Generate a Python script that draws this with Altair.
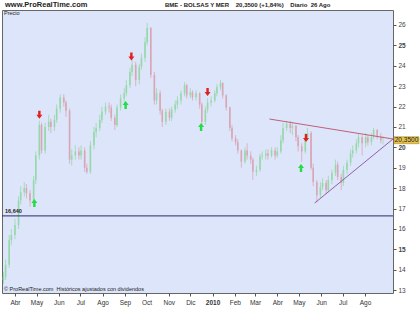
import altair as alt
import pandas as pd

close = [13.65,14.25,15.45,15.7,16.2,17.4,17.8,18.0,17.75,17.4,
         18.4,19.6,21.1,19.85,21.0,21.25,21.0,21.35,21.9,22.45,
         22.2,21.8,19.4,19.6,19.8,19.6,19.85,19.0,18.8,20.1,
         20.75,20.95,21.35,21.75,22.0,21.95,21.45,21.1,21.95,22.4,
         22.65,23.05,23.7,24.05,23.3,23.95,24.4,25.15,25.85,23.55,
         22.3,22.65,21.8,21.25,21.75,21.45,21.85,22.1,22.3,22.65,
         23.05,22.55,22.7,22.45,22.65,22.1,21.25,21.85,22.2,22.3,
         22.65,22.95,23.15,22.55,21.95,20.95,20.45,20.25,19.85,19.3,
         19.85,19.6,19.4,18.8,18.9,19.55,19.6,19.7,19.6,19.85,
         19.6,19.8,20.35,20.95,21.15,20.95,21.05,20.5,20.05,19.8,
         20.5,20.7,19.0,18.3,17.65,18.05,18.25,17.9,18.4,18.75,
         19.15,18.55,18.25,18.9,19.25,19.7,19.85,20.2,20.5,20.2,
         20.5,20.25,20.5,20.85,20.55,20.35,20.35]
high = [13.9,14.5,15.7,16.0,16.5,17.6,18.1,18.3,18.2,17.9,
        18.6,19.8,21.3,21.2,21.2,21.6,21.4,21.6,22.1,22.6,
        22.6,22.3,21.9,19.9,20.1,20.0,20.1,20.0,19.2,20.3,
        21.0,21.2,21.6,22.0,22.2,22.2,22.1,21.6,22.1,22.6,
        22.9,23.3,23.9,24.3,24.2,24.1,24.6,25.4,26.1,25.9,
        23.7,22.9,22.8,21.9,21.9,21.9,22.0,22.3,22.5,22.8,
        23.2,23.1,22.9,22.8,22.8,22.7,22.2,22.0,22.4,22.5,
        22.8,23.1,23.3,23.2,22.6,22.0,21.1,20.6,20.4,19.9,
        20.0,20.2,19.8,19.5,19.1,19.7,19.8,19.9,19.9,20.0,
        20.0,20.0,20.6,21.2,21.3,21.3,21.2,21.1,20.6,20.2,
        20.7,20.95,20.8,19.2,18.4,18.3,18.5,18.4,18.6,18.9,
        19.4,19.3,18.7,19.1,19.4,19.9,20.1,20.4,20.7,20.6,
        20.7,20.6,20.7,20.95,20.9,20.7,20.55]
low = [13.3,13.5,14.1,15.2,15.5,16.0,17.2,17.6,17.5,17.1,
       17.3,18.2,19.4,19.7,19.7,20.8,20.7,20.8,21.2,21.7,
       22.0,21.5,19.2,19.1,19.4,19.4,19.4,18.8,18.7,18.7,
       19.9,20.5,20.8,21.2,21.6,21.7,21.3,20.85,21.0,21.8,
       22.2,22.5,22.9,23.5,23.0,23.1,23.8,24.2,25.0,23.4,
       22.1,22.1,21.6,21.0,21.1,21.3,21.3,21.7,21.9,22.1,
       22.5,22.4,22.4,22.3,22.3,21.9,21.1,21.1,21.7,22.0,
       22.2,22.5,22.8,22.4,21.8,20.8,20.3,20.1,19.7,19.0,
       19.2,19.4,19.2,18.4,18.6,18.8,19.4,19.4,19.4,19.5,
       19.4,19.5,19.7,20.2,20.8,20.7,20.6,20.3,19.8,19.3,
       19.7,20.4,18.9,18.1,17.3,17.5,17.9,17.7,17.8,18.2,
       18.6,18.4,17.9,18.1,18.7,19.1,19.5,19.7,20.0,19.6,
       20.0,20.1,20.1,20.4,20.4,20.2,20.15]
first_open = 13.5

sell_dates = ["2009-05-05", "2009-09-10", "2009-12-25", "2010-05-11"]
sell_prices = [21.6, 24.45, 22.72, 20.46]
buy_dates = ["2009-04-28", "2009-09-02", "2009-12-16", "2010-05-04"]
buy_prices = [17.27, 22.08, 21.0, 18.99]

upper_dates = ["2010-03-21", "2010-09-09"]
upper_prices = [21.39, 20.41]
lower_dates = ["2010-05-23", "2010-09-09"]
lower_prices = [17.27, 20.41]

support_level = 16.64
last_price = 20.35
month_names = ['2010','Feb','Mar','Abr','May','Jun','Jul','Ago','Sep','Oct','Nov','Dic']
y_ticks = list(range(13, 27))

dates = pd.bdate_range("2009-03-16", periods=len(close), freq="3B")
opens = [first_open] + close[:-1]
df = pd.DataFrame({
    "date": dates.strftime("%Y-%m-%dT00:00:00"),
    "open": opens, "close": close, "high": high, "low": low,
})
df["dir"] = ["up" if c >= o else "down" for o, c in zip(opens, close)]

def ts(s):
    return [d + "T00:00:00" for d in s]

sells = pd.DataFrame({"date": ts(sell_dates), "price": sell_prices})
buys = pd.DataFrame({"date": ts(buy_dates), "price": buy_prices})
tri = pd.DataFrame({
    "date": ts(upper_dates) + ts(lower_dates),
    "price": upper_prices + lower_prices,
    "line": ["upper", "upper", "lower", "lower"],
})

xscale = alt.Scale(domain=[alt.DateTime(year=2009, month=3, date=14),
                           alt.DateTime(year=2010, month=9, date=9)], padding=0)
yscale = alt.Scale(domain=[12.86, 26.735], nice=False, zero=False, padding=0)

tick_vals = []
for y, m in [(2009, m) for m in range(4, 13)] + [(2010, m) for m in range(1, 9)]:
    tick_vals.append(alt.DateTime(year=y, month=m, date=1))

xaxis = alt.Axis(values=tick_vals, labelExpr="%s[month(datum.value)]" % str(month_names),
                 title=None, grid=False, domain=False, tickSize=3, tickColor="#555",
                 labelFontSize=6.5, labelColor="#333", labelFont="Liberation Sans",
                 labelPadding=3, labelOverlap=False,
                 labelFontWeight={"condition": {"test": "month(datum.value)==0", "value": "bold"}, "value": "normal"})
yaxis = alt.Axis(orient="right", values=y_ticks, title=None, grid=False,
                 domain=False, tickSize=3, tickColor="#555", labelFontSize=6.5,
                 labelColor="#444", labelFont="Liberation Sans", labelPadding=2,
                 labelOverlap=False,
                 labelFontWeight={"condition": {"test": "datum.value % 5 == 0", "value": "bold"}, "value": "normal"})

def X(f):
    return alt.X(f, scale=xscale, axis=xaxis, title=None)

def Y(f):
    return alt.Y(f, scale=yscale, axis=yaxis, title=None)

body_scale = alt.Scale(domain=["up", "down"], range=["#97d8aa", "#d9a6b5"])

base = alt.Chart(df)
wicks = base.mark_rule(strokeWidth=1, opacity=0.8).encode(
    x=X("date:T"), y=Y("low:Q"), y2="high:Q",
    color=alt.Color("dir:N", scale=body_scale, legend=None),
)
bodies = base.mark_bar(size=1.6).encode(
    x=X("date:T"), y=Y("open:Q"), y2="close:Q",
    color=alt.Color("dir:N", scale=body_scale, legend=None),
)

support = alt.Chart(pd.DataFrame({"v": [support_level]})).mark_rule(color="#2b2b6b", strokeWidth=1).encode(
    y=Y("v:Q"))

tri_lines = alt.Chart(tri).mark_line(strokeWidth=1).encode(
    x=X("date:T"), y=Y("price:Q"),
    detail="line:N",
    color=alt.Color("line:N", scale=alt.Scale(domain=["upper", "lower"], range=["#c0607a", "#9060a8"]), legend=None),
)

down_arrow = "M-0.3,-1L0.3,-1L0.3,0L0.75,0L0,1L-0.75,0L-0.3,0Z"
up_arrow = "M-0.3,1L0.3,1L0.3,0L0.75,0L0,-1L-0.75,0L-0.3,0Z"
sell_marks = alt.Chart(sells).mark_point(shape=down_arrow, filled=True, size=64, color="#e0201c", opacity=1).encode(
    x=X("date:T"), y=Y("price:Q"))
buy_marks = alt.Chart(buys).mark_point(shape=up_arrow, filled=True, size=64, color="#22dd44", opacity=1).encode(
    x=X("date:T"), y=Y("price:Q"))

lbl = pd.DataFrame({"p": [last_price], "a": [last_price + 0.17], "b": [last_price - 0.17], "t": ["20,3500"]})
price_box = alt.Chart(lbl).mark_rect(color="#e8c24a", stroke="#9a7a10", strokeWidth=0.5).encode(
    x=alt.value(392), x2=alt.value(417), y=Y("a:Q"), y2="b:Q")
price_text = alt.Chart(lbl).mark_text(fontSize=6.5, font="Liberation Sans", color="#222", align="center", baseline="middle").encode(
    x=alt.value(404.5), y=Y("p:Q"), text="t:N")

def label(txt, x, y, size=6, weight="normal", align="left", color="#222"):
    return alt.Chart(pd.DataFrame({"t": [txt]})).mark_text(
        fontSize=size, fontWeight=weight, align=align, baseline="alphabetic",
        font="Liberation Sans", color=color).encode(
        x=alt.value(x), y=alt.value(y), text="t:N")

nb = "\u00a0"
texts = [
    label("www.ProRealTime.com", 3, -3, size=7.5, weight="bold"),
    label("BME - BOLSAS Y MER" + nb * 4 + "20,3500 (+1,84%)" + nb * 4 + "Diario" + nb * 2 + "26 Ago",
          163, -3, size=6, weight="bold"),
    label("Precio", 2, 5, size=5.5),
    label("16,640", 3, 203, size=5.5, weight="bold"),
    label("\u00a9 ProRealTime.com" + nb * 2 + "Hist\u00f3ricos ajustados con dividendos", 2, 281, size=5.5),
]

chart = alt.layer(wicks, bodies, support, tri_lines, sell_marks, buy_marks, price_box, price_text, *texts).resolve_scale(
    color="independent"
).properties(
    width=391, height=283,
    padding={"left": 2, "top": 10, "right": 27, "bottom": 22},
    autosize=alt.AutoSizeParams(type="none"),
    background="white",
).configure_view(fill="#dde5fa", stroke="#666", strokeWidth=1)

chart.save("out.html", embed_options={"renderer": "svg", "actions": False})
